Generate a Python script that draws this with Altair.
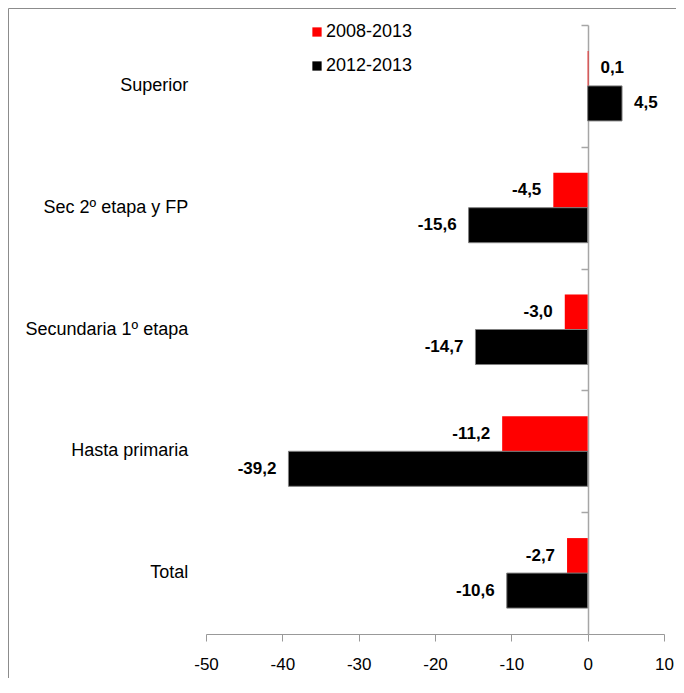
import altair as alt
import pandas as pd

categories = ["Superior", "Sec 2º etapa y FP", "Secundaria 1º etapa", "Hasta primaria", "Total"]
series = ["2008-2013", "2012-2013"]
v2008 = [0.1, -4.5, -3.0, -11.2, -2.7]
v2012 = [4.5, -15.6, -14.7, -39.2, -10.6]
colors = ["#ff0000", "#000000"]
x_ticks = [-50, -40, -30, -20, -10, 0, 10]

rows = []
for c, a, b in zip(categories, v2008, v2012):
    for s, v in ((series[0], a), (series[1], b)):
        rows.append({"cat": c, "series": s, "value": v,
                     "label": f"{v:.1f}".replace(".", ",")})
df = pd.DataFrame(rows)

W, H = 668, 670
X_RANGE = [198, 656]
Y_RANGE = [17, 626]
STEP = (Y_RANGE[1] - Y_RANGE[0]) / len(categories)
FONT = "Liberation Sans"

x_scale = alt.Scale(domain=[-50, 10], range=X_RANGE, nice=False, zero=False)
y_scale = alt.Scale(domain=categories, range=Y_RANGE, paddingInner=0.425, paddingOuter=0.2125)
yoff_scale = alt.Scale(domain=series, paddingInner=0, paddingOuter=0)

x_enc = alt.X("value:Q", scale=x_scale,
              axis=alt.Axis(values=x_ticks, orient="bottom", offset=-(H - 626), grid=False,
                            domainColor="#999999", tickColor="#999999", tickSize=7,
                            labelFont=FONT, labelFontSize=17, labelColor="#000000",
                            labelPadding=15, labelFlush=False,
                            labelExpr="'' + datum.value", title=None))
y_enc = alt.Y("cat:N", scale=y_scale, sort=categories,
              axis=alt.Axis(orient="left", offset=-179.7, domain=False, ticks=False, tickSize=0,
                            labelPadding=0, labelFont=FONT, labelFontSize=18,
                            labelColor="#000000", title=None))
yoff_enc = alt.YOffset("series:N", scale=yoff_scale, sort=series)

base = alt.Chart(df)

bars = base.mark_bar(stroke="#7f7f7f").encode(
    x=x_enc, y=y_enc, yOffset=yoff_enc,
    color=alt.Color("series:N", scale=alt.Scale(domain=series, range=colors),
                    legend=alt.Legend(orient="none", legendX=300, legendY=15, title=None,
                                      symbolType="square", symbolSize=86, symbolStrokeWidth=0,
                                      labelFont=FONT, labelFontSize=18, labelColor="#000000",
                                      labelOffset=0, rowPadding=16, padding=0)),
    strokeWidth=alt.condition(alt.datum.series == series[1], alt.value(1), alt.value(0)),
)

txt_neg = base.transform_filter("datum.value < 0").mark_text(
    align="right", baseline="middle", dx=-12, font=FONT, fontSize=17, fontWeight="bold",
    color="#000000").encode(x=x_enc, y=y_enc, yOffset=yoff_enc, text="label:N")
txt_pos = base.transform_filter("datum.value >= 0").mark_text(
    align="left", baseline="middle", dx=12, font=FONT, fontSize=17, fontWeight="bold",
    color="#000000").encode(x=x_enc, y=y_enc, yOffset=yoff_enc, text="label:N")

inner = alt.layer(bars, txt_neg, txt_pos)

zero_axis = base.mark_point(opacity=0).encode(
    y=alt.Y("cat:N", scale=y_scale, sort=categories,
            axis=alt.Axis(orient="left", offset=-580, labels=False, domain=True,
                          domainColor="#a6a6a6", domainWidth=1.5, ticks=True,
                          tickColor="#a6a6a6", tickSize=7, tickWidth=1.5,
                          tickOffset=-STEP / 2, grid=False, title=None)))

chart = alt.layer(inner, zero_axis).resolve_axis(y="independent").properties(
    width=W, height=H, padding=0
).configure_view(stroke="#8c8c8c", strokeWidth=1)

chart.save("out.html", embed_options={"renderer": "svg", "actions": False})
